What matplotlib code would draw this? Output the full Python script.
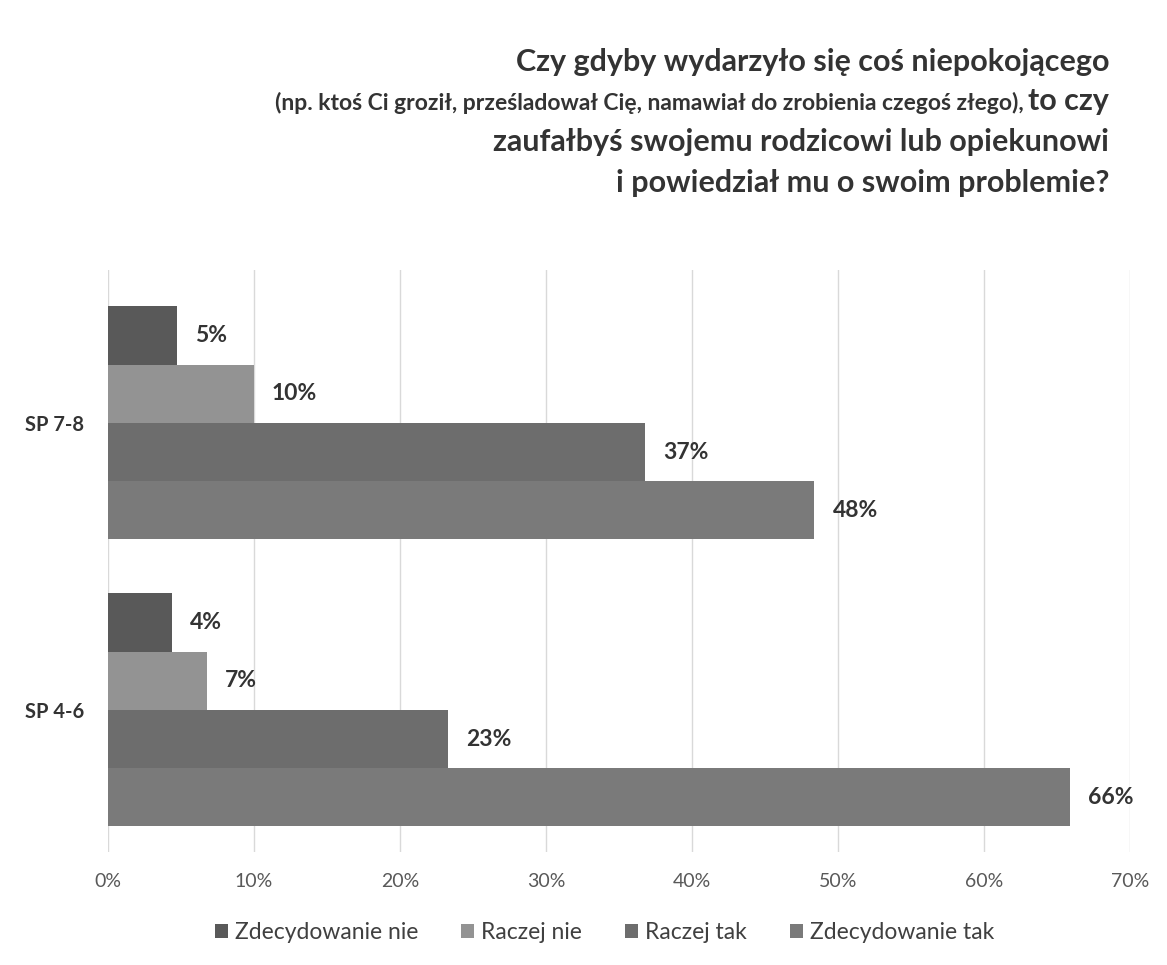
import matplotlib.pyplot as plt
import numpy as np

plt.rcParams['font.family'] = ['Lato', 'DejaVu Sans']

categories = ['SP 4-6', 'SP 7-8']
series = ['Zdecydowanie nie', 'Raczej nie', 'Raczej tak', 'Zdecydowanie tak']
values = {
    'Zdecydowanie nie': [4.4, 4.7],
    'Raczej nie': [6.8, 10.0],
    'Raczej tak': [23.3, 36.8],
    'Zdecydowanie tak': [65.9, 48.4],
}
labels = {
    'Zdecydowanie nie': ['4%', '5%'],
    'Raczej nie': ['7%', '10%'],
    'Raczej tak': ['23%', '37%'],
    'Zdecydowanie tak': ['66%', '48%'],
}
colors = ['#595959', '#939393', '#6d6d6d', '#7a7a7a']

fig = plt.figure(figsize=(11.67, 9.65), dpi=100)
ax = fig.add_axes([0.0925, 0.1171, 0.8755, 0.6031])

y = np.arange(len(categories))
h = 0.203
for i, s in enumerate(series):
    pos = y + (1.5 - i) * h
    ax.barh(pos, values[s], height=h, color=colors[i], label=s, zorder=2)
    for p, v, lab in zip(pos, values[s], labels[s]):
        ax.annotate(lab, xy=(v, p), xytext=(13, 0), textcoords='offset points',
                    va='center', ha='left', fontsize=16.5, fontweight='bold',
                    color='#333333')

ax.set_xlim(0, 70)
ax.set_ylim(-0.495, 1.533)
ax.set_xticks(np.arange(0, 71, 10))
ax.set_xticklabels([f'{t}%' for t in range(0, 71, 10)])
ax.set_yticks(y)
ax.set_yticklabels(categories, fontweight='bold', fontsize=14.5, color='#333333')
ax.tick_params(axis='x', length=0, labelsize=14, colors='#595959', pad=15)
ax.tick_params(axis='y', length=0, pad=17)
ax.grid(axis='x', color='#d9d9d9', linewidth=1, zorder=0)
for sp in ax.spines.values():
    sp.set_visible(False)

leg = ax.legend(loc='center', bbox_to_anchor=(0.486, -0.138), ncol=4, frameon=False,
                fontsize=16.5, handlelength=0.55, handleheight=0.55, handletextpad=0.3,
                columnspacing=1.9)
for t in leg.get_texts():
    t.set_color('#404040')

# title, right aligned, mixed sizes on second line
tc = '#333333'
xr = 1109 / 1167
fs = 22
fig.text(xr, 1 - 71 / 965, 'Czy gdyby wydarzyło się coś niepokojącego', ha='right',
         va='baseline', fontsize=fs, fontweight='bold', color=tc)
big = fig.text(xr, 1 - 110 / 965, 'to czy', ha='right', va='baseline',
               fontsize=fs, fontweight='bold', color=tc)
fig.canvas.draw()
bb = big.get_window_extent(renderer=fig.canvas.get_renderer())
fig.text((bb.x0 - 4) / fig.bbox.width, 1 - 110 / 965,
         '(np. ktoś Ci groził, prześladował Cię, namawiał do zrobienia czegoś złego),',
         ha='right', va='baseline', fontsize=16.5, fontweight='bold', color=tc)
fig.text(xr, 1 - 151 / 965, 'zaufałbyś swojemu rodzicowi lub opiekunowi', ha='right',
         va='baseline', fontsize=fs, fontweight='bold', color=tc)
fig.text(xr, 1 - 192 / 965, 'i powiedział mu o swoim problemie?', ha='right',
         va='baseline', fontsize=fs, fontweight='bold', color=tc)

fig.savefig('out.png', dpi=100)
